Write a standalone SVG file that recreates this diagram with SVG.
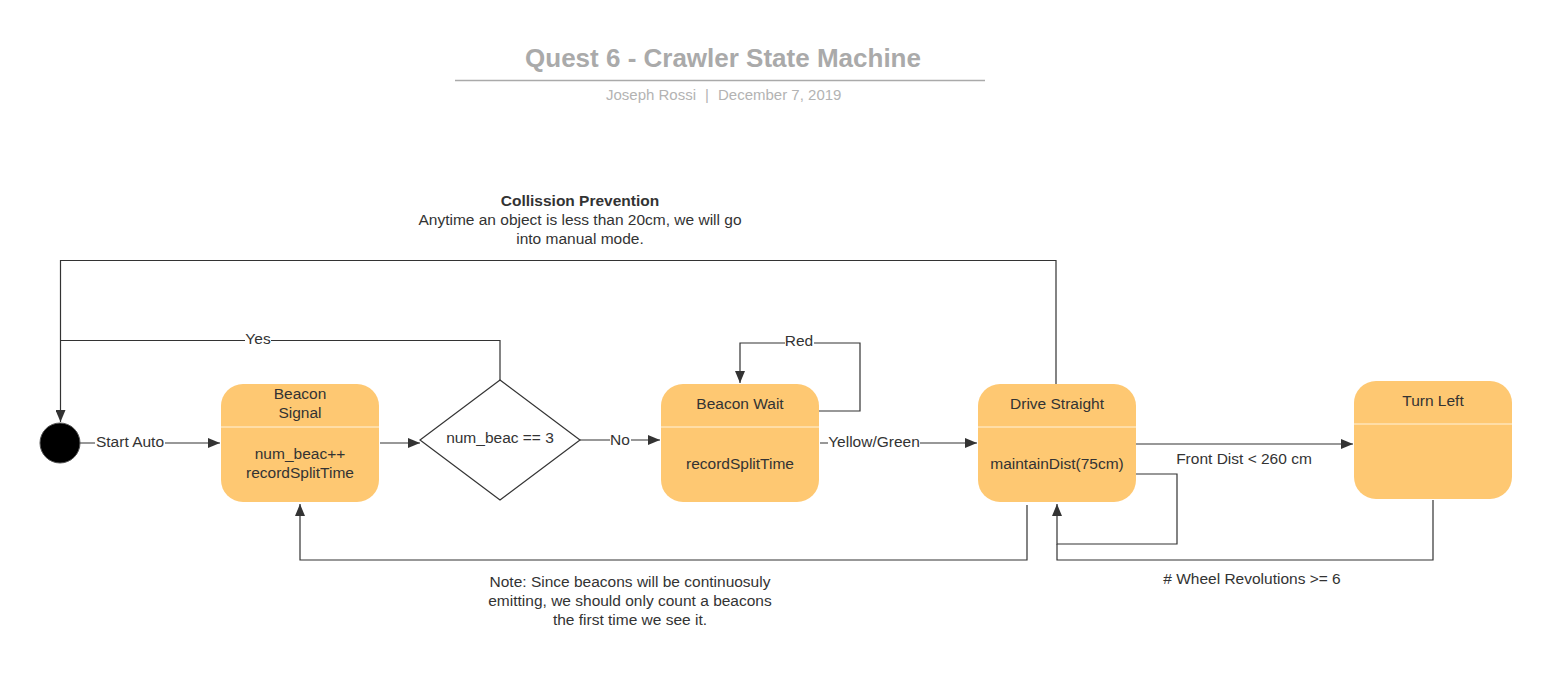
<svg xmlns="http://www.w3.org/2000/svg" width="1554" height="685" viewBox="0 0 1554 685">
<defs>
<style>
text{font-family:"Liberation Sans",Arial,sans-serif;fill:#333;}
.t{font-size:15.5px;text-anchor:middle;}
.st{fill:#fec872;}
.div{stroke:#fff3dc;stroke-width:1;}
.c{fill:none;stroke:#333;stroke-width:1.2;}
.lbl{font-size:15.5px;text-anchor:middle;}
.bg{fill:#fff;}
.sub{font-size:15px;fill:#b3b3b3;}
</style>
<marker id="ah" viewBox="0 0 12 10" refX="12" refY="5" markerWidth="12" markerHeight="10" markerUnits="userSpaceOnUse" orient="auto">
<path d="M0,0 L12,5 L0,10 z" fill="#333"/>
</marker>
</defs>
<rect width="1554" height="685" fill="#fff"/>
<g id="title">
<text x="723" y="67" style="font-size:26px;font-weight:bold;fill:#aaa;text-anchor:middle">Quest 6 - Crawler State Machine</text>
<line x1="455" y1="80.5" x2="985" y2="80.5" stroke="#aaa" stroke-width="1.5"/>
<text class="sub" x="696" y="100" text-anchor="end">Joseph Rossi</text>
<text class="sub" x="707" y="100" text-anchor="middle">|</text>
<text class="sub" x="718" y="100" text-anchor="start">December 7, 2019</text>
</g>
<g id="collision-note">
<text class="t" x="580" y="206" style="font-weight:bold">Collission Prevention</text>
<text class="t" x="580" y="225">Anytime an object is less than 20cm, we will go</text>
<text class="t" x="580" y="244">into manual mode.</text>
</g>
<g id="beacon-note">
<text class="t" x="630" y="587">Note: Since beacons will be continuosuly</text>
<text class="t" x="630" y="606">emitting, we should only count a beacons</text>
<text class="t" x="630" y="625">the first time we see it.</text>
</g>
<g id="connectors">
<path class="c" d="M1056,384 V260.5 H60.5 V422" marker-end="url(#ah)"/>
<path class="c" d="M500,381 V340.5 H60.5"/>
<rect class="bg" x="245" y="331" width="26" height="16"/>
<text class="lbl" x="258" y="344">Yes</text>
<path class="c" d="M80,443 H220" marker-end="url(#ah)"/>
<rect class="bg" x="95" y="434" width="70" height="16"/>
<text class="lbl" x="130" y="447">Start Auto</text>
<path class="c" d="M580,440 H660" marker-end="url(#ah)"/>
<rect class="bg" x="610" y="432" width="21" height="16"/>
<text class="lbl" x="620" y="445">No</text>
<path class="c" d="M380,443 H420" marker-end="url(#ah)"/>
<path class="c" d="M819,411 H860 V343 H740 V383" marker-end="url(#ah)"/>
<rect class="bg" x="785" y="335" width="29" height="16"/>
<text class="lbl" x="799" y="346">Red</text>
<path class="c" d="M820,443 H977" marker-end="url(#ah)"/>
<rect class="bg" x="828" y="434" width="92" height="16"/>
<text class="lbl" x="874" y="447">Yellow/Green</text>
<path class="c" d="M1136,444 H1353" marker-end="url(#ah)"/>
<text class="lbl" x="1244" y="464">Front Dist &lt; 260 cm</text>
<path class="c" d="M1136,474 H1177 V544 H1057 V504" marker-end="url(#ah)"/>
<path class="c" d="M1433,500 V560 H1057 V544"/>
<text class="lbl" x="1252" y="584"># Wheel Revolutions &gt;= 6</text>
<path class="c" d="M1027,505 V560 H300 V504" marker-end="url(#ah)"/>
</g>
<g id="start">
<circle cx="60" cy="443" r="20" fill="#000" stroke="#555" stroke-width="1"/>
</g>
<g id="beacon-signal">
<rect class="st" x="221" y="384" width="158" height="118" rx="22"/>
<line class="div" x1="221" y1="427" x2="379" y2="427"/>
<text class="t" x="300" y="399">Beacon</text>
<text class="t" x="300" y="418">Signal</text>
<text class="t" x="300" y="459">num_beac++</text>
<text class="t" x="300" y="478">recordSplitTime</text>
</g>
<g id="decision">
<path d="M500,380 L580,440 L500,500 L420,440 Z" fill="#fff" stroke="#333" stroke-width="1.2"/>
<text class="t" x="500" y="443">num_beac == 3</text>
</g>
<g id="beacon-wait">
<rect class="st" x="661" y="384" width="158" height="118" rx="22"/>
<line class="div" x1="661" y1="427" x2="819" y2="427"/>
<text class="t" x="740" y="409">Beacon Wait</text>
<text class="t" x="740" y="469">recordSplitTime</text>
</g>
<g id="drive-straight">
<rect class="st" x="978" y="384" width="158" height="118" rx="22"/>
<line class="div" x1="978" y1="427" x2="1136" y2="427"/>
<text class="t" x="1057" y="409">Drive Straight</text>
<text class="t" x="1057" y="469">maintainDist(75cm)</text>
</g>
<g id="turn-left">
<rect class="st" x="1354" y="381" width="158" height="118" rx="22"/>
<line class="div" x1="1354" y1="424" x2="1512" y2="424"/>
<text class="t" x="1433" y="406">Turn Left</text>
</g>
</svg>
